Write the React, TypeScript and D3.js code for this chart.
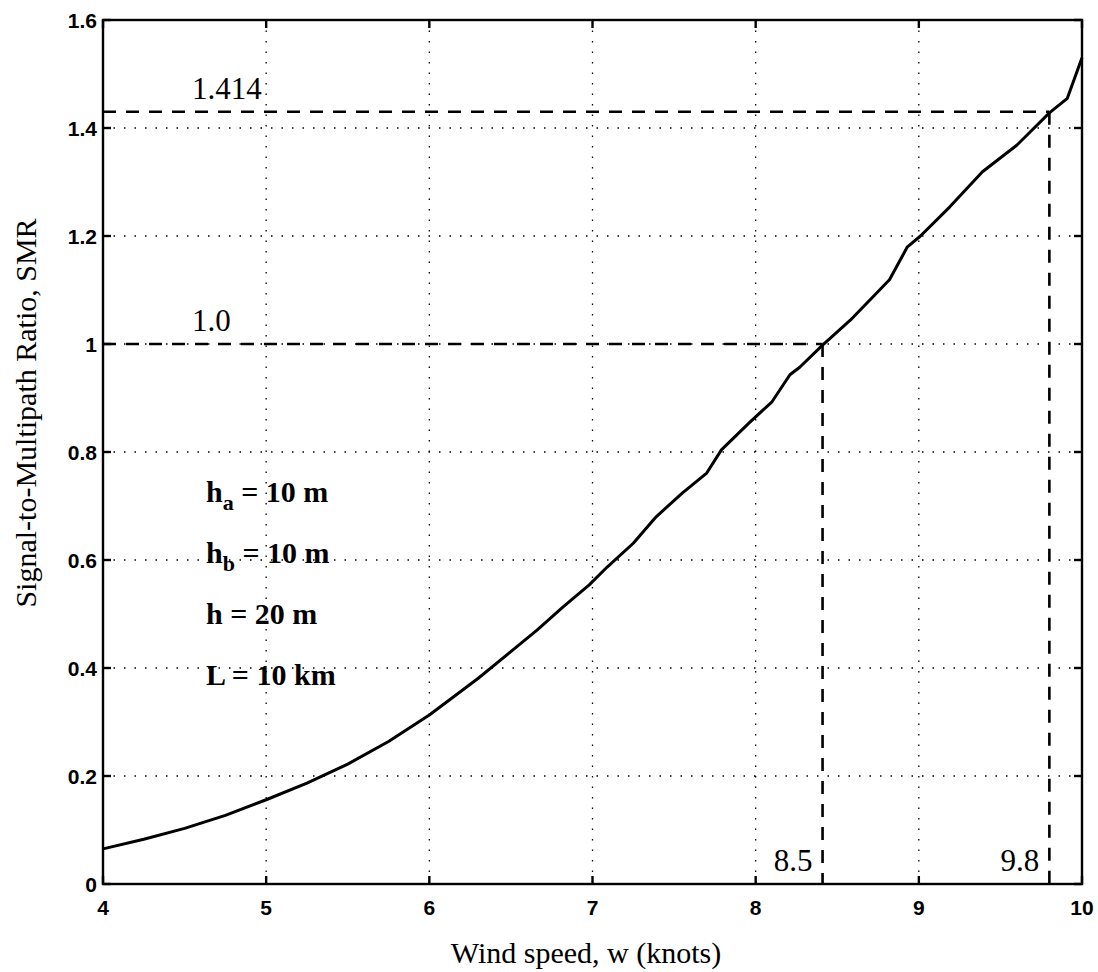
import { useEffect, useRef } from "react";
import * as d3 from "d3";

// curve
const windSpeed = [
  4.0, 4.25, 4.5, 4.75, 5.0, 5.25, 5.5, 5.75, 6.0, 6.3, 6.49, 6.66, 6.82, 6.98,
  7.09, 7.25, 7.39, 7.55, 7.7, 7.79, 7.96, 8.1, 8.21, 8.27, 8.41, 8.58, 8.82,
  8.93, 9.01, 9.19, 9.39, 9.6, 9.8, 9.91, 10.0,
];
const smr = [
  0.065, 0.083, 0.103, 0.127, 0.156, 0.187, 0.222, 0.264, 0.313, 0.381, 0.428,
  0.47, 0.513, 0.554, 0.587, 0.631, 0.68, 0.724, 0.761, 0.804, 0.854, 0.893,
  0.943, 0.957, 0.998, 1.044, 1.119, 1.18, 1.2, 1.254, 1.319, 1.368, 1.428,
  1.455, 1.53,
];

const xTicks = [4, 5, 6, 7, 8, 9, 10];
const yTicks = [0, 0.2, 0.4, 0.6, 0.8, 1, 1.2, 1.4, 1.6];

// dashed reference lines: level on y, where it meets the curve on x
const refLevels = [1.0, 1.43];
const refWinds = [8.41, 9.8];
const refLevelLabels = ["1.0", "1.414"];
const refWindLabels = ["8.5", "9.8"];

const paramLines = [
  { base: "h", sub: "a", rest: " = 10 m" },
  { base: "h", sub: "b", rest: " = 10 m" },
  { base: "h", sub: "", rest: " = 20 m" },
  { base: "L", sub: "", rest: " = 10 km" },
];

export default function App() {
  const svgRef = useRef<SVGSVGElement>(null);

  useEffect(() => {
    if (!svgRef.current) return;
    const W = 1098;
    const H = 972;
    const margin = { top: 20, right: 16, bottom: 88, left: 103 };
    const width = W - margin.left - margin.right;
    const height = H - margin.top - margin.bottom;

    const root = d3.select(svgRef.current);
    root.selectAll("*").remove();
    root.attr("width", W).attr("height", H);

    const g = root
      .append("g")
      .attr("transform", `translate(${margin.left},${margin.top})`);

    const x = d3.scaleLinear().domain([4, 10]).range([0, width]);
    const y = d3.scaleLinear().domain([0, 1.6]).range([height, 0]);

    // dotted grid
    const grid = g.append("g").attr("stroke", "#000").attr("stroke-width", 1.3)
      .attr("stroke-dasharray", "1.5,9").attr("fill", "none");
    xTicks.slice(1, -1).forEach((t) => {
      grid.append("line").attr("x1", x(t)).attr("x2", x(t))
        .attr("y1", 0).attr("y2", height);
    });
    yTicks.slice(1, -1).forEach((t) => {
      grid.append("line").attr("x1", 0).attr("x2", width)
        .attr("y1", y(t)).attr("y2", y(t));
    });

    // dashed reference lines
    const dash = g.append("g").attr("stroke", "#000").attr("stroke-width", 2.6)
      .attr("stroke-dasharray", "13,10").attr("fill", "none");
    refLevels.forEach((lv, i) => {
      dash.append("line").attr("x1", 0).attr("x2", x(refWinds[i]))
        .attr("y1", y(lv)).attr("y2", y(lv));
      dash.append("line").attr("x1", x(refWinds[i])).attr("x2", x(refWinds[i]))
        .attr("y1", y(lv)).attr("y2", height);
    });

    // curve
    const line = d3
      .line<number>()
      .x((_, i) => x(windSpeed[i]))
      .y((d) => y(d));
    g.append("path")
      .datum(smr)
      .attr("d", line)
      .attr("fill", "none")
      .attr("stroke", "#000")
      .attr("stroke-width", 3)
      .attr("stroke-linejoin", "round");

    // axes box with inward ticks on all sides
    g.append("rect").attr("width", width).attr("height", height)
      .attr("fill", "none").attr("stroke", "#000").attr("stroke-width", 2.4);

    const tickLen = 8;
    const ticks = g.append("g").attr("stroke", "#000").attr("stroke-width", 2.4);
    xTicks.forEach((t) => {
      ticks.append("line").attr("x1", x(t)).attr("x2", x(t))
        .attr("y1", height).attr("y2", height - tickLen);
      ticks.append("line").attr("x1", x(t)).attr("x2", x(t))
        .attr("y1", 0).attr("y2", tickLen);
    });
    yTicks.forEach((t) => {
      ticks.append("line").attr("x1", 0).attr("x2", tickLen)
        .attr("y1", y(t)).attr("y2", y(t));
      ticks.append("line").attr("x1", width).attr("x2", width - tickLen)
        .attr("y1", y(t)).attr("y2", y(t));
    });

    const sans = "'Liberation Sans', Arial, sans-serif";
    const serif = "'Liberation Serif', 'Times New Roman', serif";

    g.append("g")
      .selectAll("text")
      .data(xTicks)
      .enter()
      .append("text")
      .attr("x", (d) => x(d))
      .attr("y", height + 31)
      .attr("text-anchor", "middle")
      .attr("font-family", sans)
      .attr("font-size", 21)
      .attr("font-weight", "bold")
      .text((d) => String(d));

    g.append("g")
      .selectAll("text")
      .data(yTicks)
      .enter()
      .append("text")
      .attr("x", -6)
      .attr("y", (d) => y(d))
      .attr("dy", "0.36em")
      .attr("text-anchor", "end")
      .attr("font-family", sans)
      .attr("font-size", 21)
      .attr("font-weight", "bold")
      .text((d) => String(d));

    // axis titles
    root.append("text")
      .attr("x", 586)
      .attr("y", 963)
      .attr("text-anchor", "middle")
      .attr("font-family", serif)
      .attr("font-size", 30)
      .text("Wind speed, w (knots)");

    root.append("text")
      .attr("transform", "translate(36,413) rotate(-90)")
      .attr("text-anchor", "middle")
      .attr("font-family", serif)
      .attr("font-size", 30)
      .text("Signal-to-Multipath Ratio, SMR");

    // reference labels
    refLevels.forEach((lv, i) => {
      g.append("text")
        .attr("x", 89)
        .attr("y", y(lv) - 13)
        .attr("font-family", serif)
        .attr("font-size", 31)
        .text(refLevelLabels[i]);
      g.append("text")
        .attr("x", x(refWinds[i]) - 10)
        .attr("y", height - 13)
        .attr("text-anchor", "end")
        .attr("font-family", serif)
        .attr("font-size", 31)
        .text(refWindLabels[i]);
    });

    // parameter block
    paramLines.forEach((p, i) => {
      const t = g.append("text")
        .attr("x", 103)
        .attr("y", 482 + i * 61)
        .attr("font-family", serif)
        .attr("font-size", 30)
        .attr("font-weight", "bold");
      t.append("tspan").text(p.base);
      if (p.sub) {
        t.append("tspan").attr("dy", 8).attr("font-size", 22).text(p.sub);
        t.append("tspan").attr("dy", -8).text(p.rest);
      } else {
        t.append("tspan").text(p.rest);
      }
    });
  }, []);

  return (
    <svg
      ref={svgRef}
      style={{ position: "absolute", left: 0, top: 0, background: "#fff" }}
    />
  );
}
